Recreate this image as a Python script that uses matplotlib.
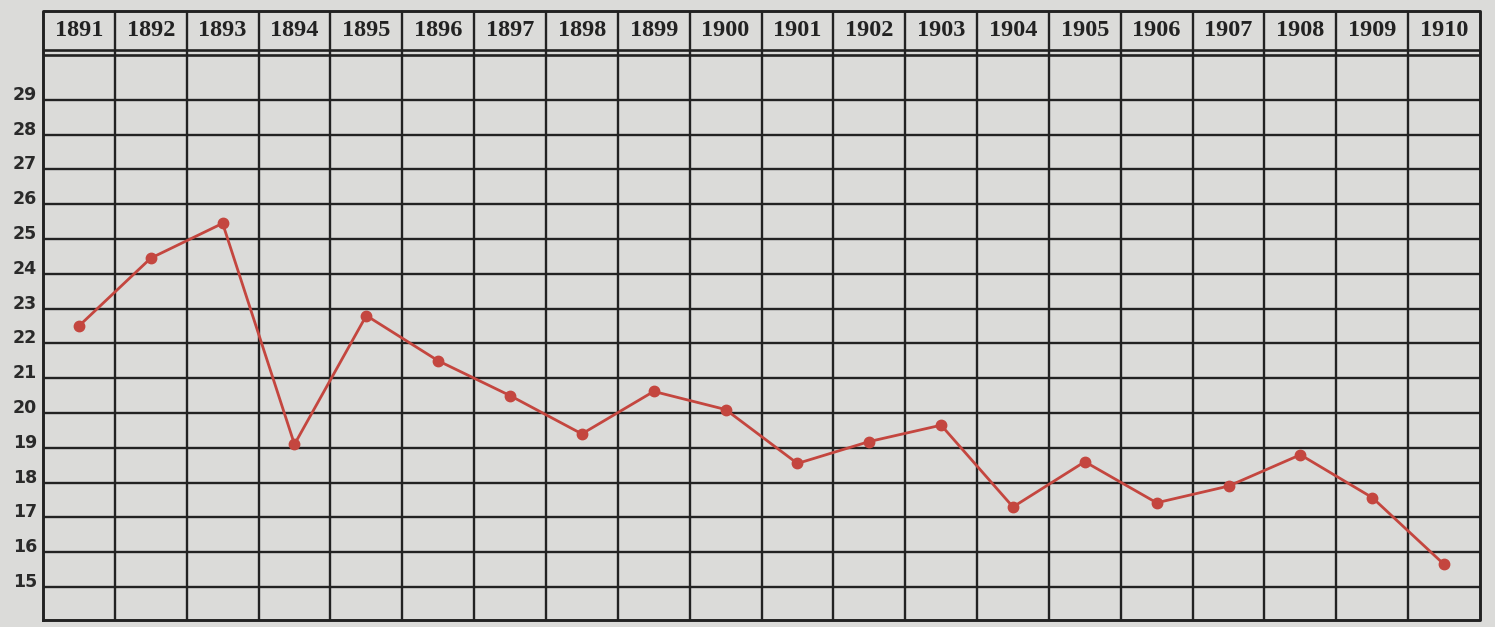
"""Recreation of a scanned yearly line chart (1891-1910)."""

import numpy as np
import matplotlib.pyplot as plt

years = [1891, 1892, 1893, 1894, 1895, 1896, 1897, 1898, 1899, 1900,
         1901, 1902, 1903, 1904, 1905, 1906, 1907, 1908, 1909, 1910]
values = [22.5, 24.45, 25.45, 19.1, 22.8, 21.5, 20.5, 19.4, 20.62, 20.1,
          18.55, 19.18, 19.65, 17.3, 18.6, 17.42, 17.9, 18.8, 17.57, 15.65]
y_ticks = list(range(15, 30))

# layout in pixels of the 1495x627 image (grid straightened)
W, H = 1495, 627
left_px, right_px = 43, 1480
top_px, bottom_px = 11, 620
line15_px, unit_px = 587, 34.8
head_lines_px = [50, 55]

paper = "#dbdbd9"
ink = "#222222"
red = "#c4463f"


def px_to_val(y):
    return 15 + (line15_px - y) / unit_px


fig = plt.figure(figsize=(W / 100, H / 100), dpi=100, facecolor=paper)
ax = fig.add_axes([left_px / W, 1 - bottom_px / H,
                   (right_px - left_px) / W, (bottom_px - top_px) / H])
ax.set_facecolor(paper)
ax.set_xlim(0, len(years))
y_lo, y_hi = px_to_val(bottom_px), px_to_val(top_px)
ax.set_ylim(y_lo, y_hi)
ax.axis("off")

head_lo, head_hi = px_to_val(head_lines_px[1]), px_to_val(head_lines_px[0])

# grid
ax.hlines(y_ticks, 0, len(years), color=ink, lw=1.7, zorder=1)
ax.vlines(np.arange(1, len(years)), y_lo, y_hi, color=ink, lw=1.7, zorder=1)
ax.hlines([head_lo, head_hi], 0, len(years), color=ink, lw=1.9, zorder=1)
ax.plot([0, len(years), len(years), 0, 0], [y_lo, y_lo, y_hi, y_hi, y_lo],
        color=ink, lw=2.1, clip_on=False, zorder=1)

# header years
head_mid = (y_hi + head_hi) / 2
for i, yr in enumerate(years):
    ax.text(i + 0.5, head_mid, str(yr), ha="center", va="center",
            fontsize=17.5, fontweight="bold", family="Liberation Serif",
            color="#222222")

# left value labels
for v in y_ticks:
    ax.annotate(str(v), xy=(0, v), xytext=(-6, 5), textcoords="offset pixels",
                ha="right", va="center", fontsize=12.5, fontweight="bold",
                color="#2a2a2a", annotation_clip=False)

# data line
xs = np.arange(len(years)) + 0.5
ax.plot(xs, values, color=red, lw=2.0, marker="o", markersize=7.5,
        markerfacecolor=red, markeredgecolor=red, zorder=3)

fig.savefig("out.png", dpi=100, facecolor=paper)
